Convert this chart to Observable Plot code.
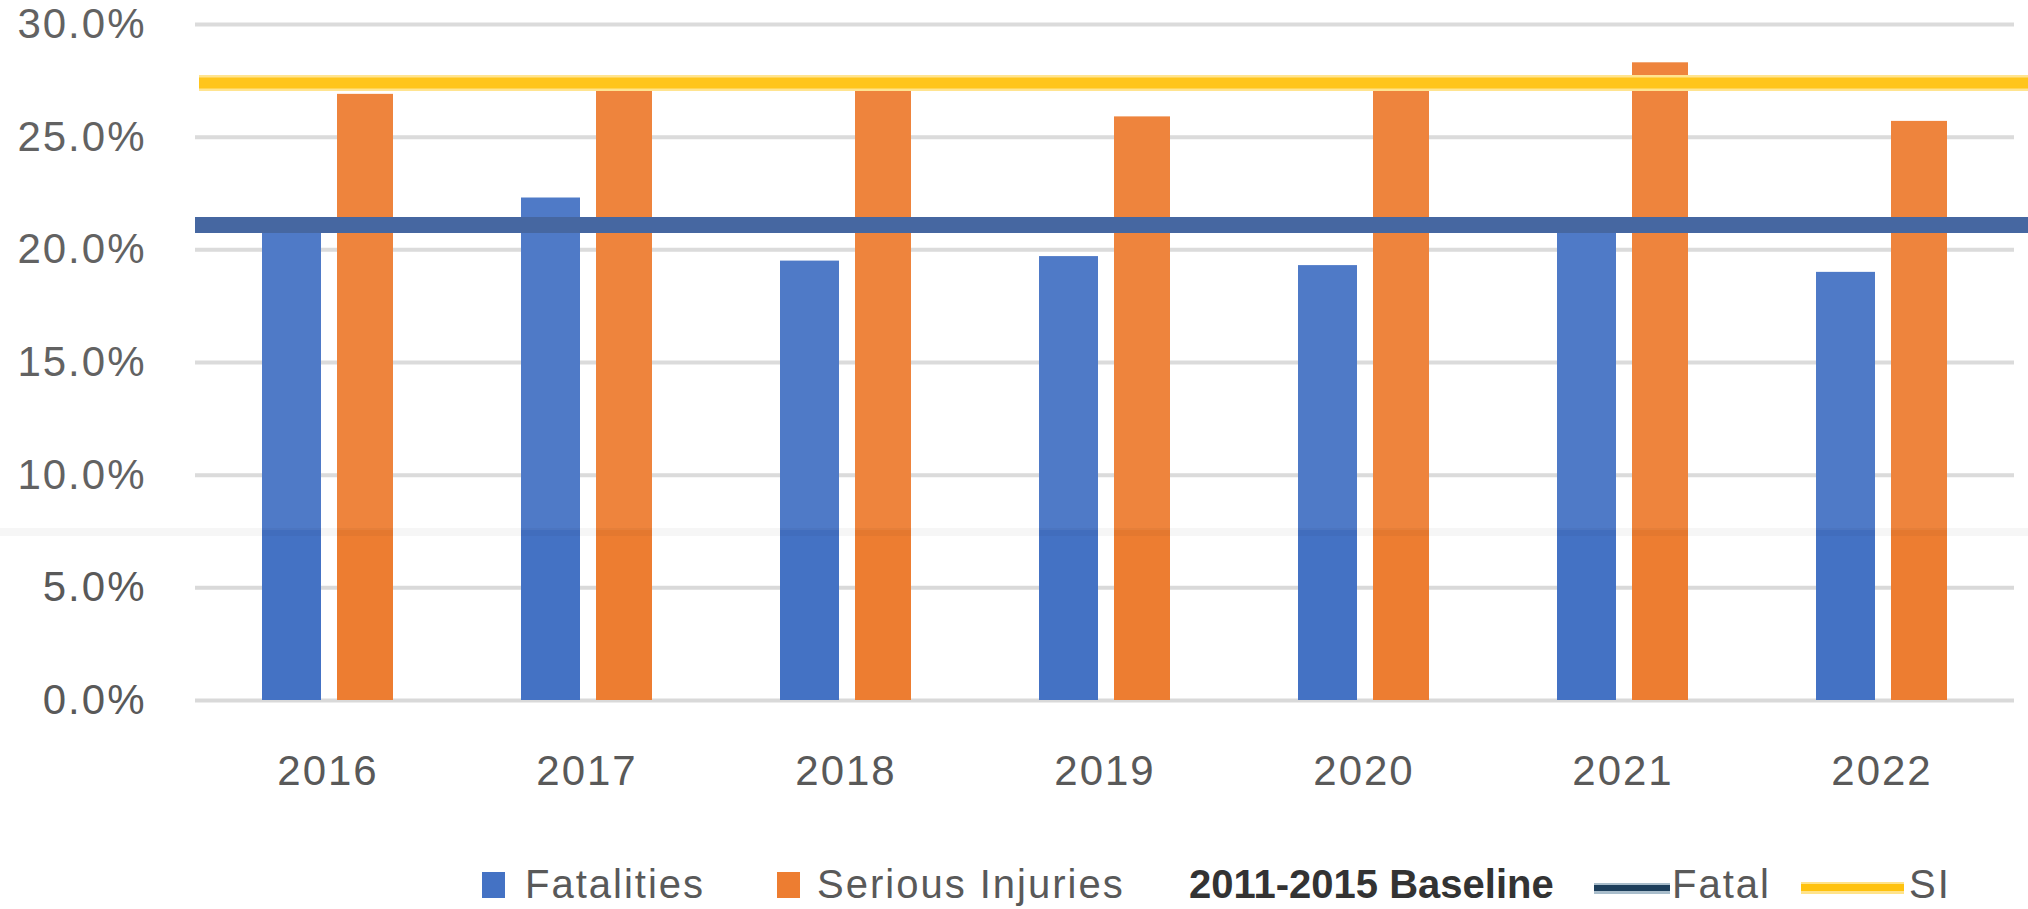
<!DOCTYPE html>
<html>
<head>
<meta charset="utf-8">
<script src="https://cdn.jsdelivr.net/npm/d3@7"></script>
<script src="https://cdn.jsdelivr.net/npm/@observablehq/plot@0.6"></script>
<style>
  html, body { margin: 0; padding: 0; background: #fff; }
  body { width: 2028px; height: 909px; overflow: hidden; position: relative; font-family: "Liberation Sans", Arial, sans-serif; }
  #chart svg { display: block; }
  #legend { position: relative; width: 2028px; height: 69px; color: #595959; font-size: 40px; letter-spacing: 2px; line-height: 40px; }
  #legend .item { position: absolute; top: 24px; white-space: nowrap; }
  #legend .sw { position: absolute; }
  #legend .title { font-weight: bold; color: #333; letter-spacing: 0; }
  #veil { position: absolute; left: 0; top: 0; width: 2028px; height: 530px; background: rgba(255,255,255,0.057); pointer-events: none; }
  #seam { position: absolute; left: 0; top: 528px; width: 2028px; height: 8px; background: rgba(0,0,0,0.035); pointer-events: none; }
</style>
</head>
<body>
<div id="chart"></div>
<div id="legend"></div>
<div id="veil"></div>
<div id="seam"></div>
<script>
// ---- data ----
const years = ["2016", "2017", "2018", "2019", "2020", "2021", "2022"];
const fatalities = [20.9, 22.3, 19.5, 19.7, 19.3, 21.0, 19.0];
const seriousInjuries = [26.9, 27.6, 27.5, 25.9, 27.2, 28.3, 25.7];
const baselineFatal = 21.1;   // 2011-2015 baseline, fatal
const baselineSI = 27.4;      // 2011-2015 baseline, serious injuries
const yTicks = [0, 5, 10, 15, 20, 25, 30];
const seriesNames = ["Fatalities", "Serious Injuries"];
const legendTitle = "2011-2015 Baseline";
const baselineNames = ["Fatal", "SI"];

// ---- styles ----
const blue = "#4472C4";
const orange = "#ED7D31";
const fatalLine = "#3B5E9C";
const siCore = "#FFC20E";
const siHalo = "#FFE38A";

const fatalData = years.map((y, i) => ({year: y, value: fatalities[i]}));
const siData = years.map((y, i) => ({year: y, value: seriousInjuries[i]}));

const chart = Plot.plot({
  width: 2028,
  height: 840,
  marginLeft: 195,
  marginRight: 14,
  marginTop: 24,
  marginBottom: 140,
  style: {fontFamily: "'Liberation Sans', Arial, sans-serif", fontSize: "42px", color: "#595959", letterSpacing: "2px", background: "#fff"},
  x: {type: "band", domain: years, paddingInner: 0.495, paddingOuter: 0.256, label: null},
  y: {domain: [0, 30], label: null},
  marks: [
    Plot.ruleY(yTicks, {stroke: "#D9D9D9", strokeWidth: 4}),
    Plot.barY(fatalData, {x: "year", y: "value", fill: blue, insetRight: 72}),
    Plot.barY(siData, {x: "year", y: "value", fill: orange, insetLeft: 75}),
    Plot.ruleY([baselineFatal], {stroke: fatalLine, strokeWidth: 16, insetRight: -14}),
    Plot.ruleY([baselineSI], {stroke: siHalo, strokeWidth: 16, insetLeft: 4, insetRight: -14}),
    Plot.ruleY([baselineSI], {stroke: siCore, strokeWidth: 11, insetLeft: 4, insetRight: -14}),
    Plot.axisY({ticks: yTicks, tickFormat: d => d.toFixed(1) + "%", tickSize: 0, tickPadding: 49, label: null}),
    Plot.axisX({tickSize: 0, tickPadding: 55, label: null})
  ]
});
document.getElementById("chart").appendChild(chart);

// ---- legend ----
const legend = document.getElementById("legend");
function add(html, cls, left, extra) {
  const el = document.createElement("div");
  el.className = cls;
  el.style.left = left + "px";
  if (extra) Object.assign(el.style, extra);
  el.innerHTML = html;
  legend.appendChild(el);
}
add("", "sw", 482, {top: "32px", width: "23px", height: "26px", background: blue});
add(seriesNames[0], "item", 525);
add("", "sw", 777, {top: "32px", width: "23px", height: "26px", background: orange});
add(seriesNames[1], "item", 817);
add(legendTitle, "item title", 1189);
add("", "sw", 1594, {top: "43px", width: "76px", height: "11px", background: "#A9BDCB"});
add("", "sw", 1594, {top: "45px", width: "76px", height: "6px", background: "#1E3F5C"});
add(baselineNames[0], "item", 1672);
add("", "sw", 1801, {top: "42px", width: "103px", height: "12px", background: siHalo});
add("", "sw", 1801, {top: "44px", width: "103px", height: "7px", background: siCore});
add(baselineNames[1], "item", 1909);
</script>
</body>
</html>
